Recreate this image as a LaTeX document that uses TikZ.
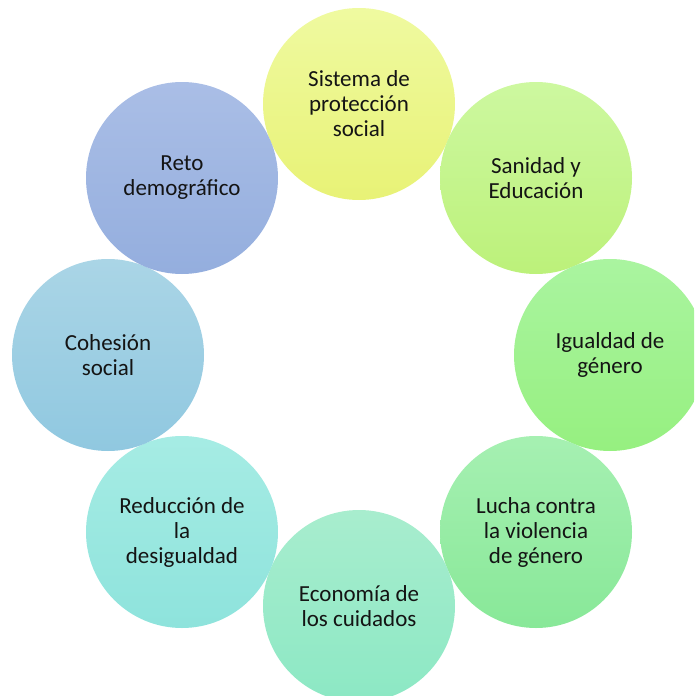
\documentclass[tikz,border=0pt]{standalone}
\usepackage{fontspec}
\setmainfont{Carlito}
\begin{document}
\begin{tikzpicture}[x=1pt,y=-1pt,
  bubble/.style={circle,minimum size=192pt,inner sep=0pt,draw=none,
    align=center,text=black!92,font=\fontsize{23}{25}\selectfont}]
\useasboundingbox (0,0) rectangle (694,696);
\clip (0,0) rectangle (694,696);
\node[bubble,top color={rgb,255:red,239;green,250;blue,160},bottom color={rgb,255:red,232;green,242;blue,118}]
  (n1) at (359,104) {Sistema de\\protección\\social};
\node[bubble,top color={rgb,255:red,205;green,248;blue,160},bottom color={rgb,255:red,188;green,241;blue,122}]
  (n2) at (536,178) {Sanidad y\\Educación};
\node[bubble,top color={rgb,255:red,170;green,244;blue,160},bottom color={rgb,255:red,150;green,240;blue,128}]
  (n3) at (610,355) {Igualdad de\\género};
\node[bubble,top color={rgb,255:red,166;green,240;blue,178},bottom color={rgb,255:red,136;green,232;blue,152}]
  (n4) at (536,532) {Lucha contra\\la violencia\\de género};
\node[bubble,top color={rgb,255:red,168;green,237;blue,206},bottom color={rgb,255:red,140;green,232;blue,196}]
  (n5) at (359,606) {Economía de\\los cuidados};
\node[bubble,top color={rgb,255:red,166;green,236;blue,228},bottom color={rgb,255:red,142;green,227;blue,220}]
  (n6) at (182,532) {Reducción de\\la\\desigualdad};
\node[bubble,top color={rgb,255:red,170;green,213;blue,230},bottom color={rgb,255:red,144;green,200;blue,224}]
  (n7) at (108,355) {Cohesión\\social};
\node[bubble,top color={rgb,255:red,170;green,190;blue,230},bottom color={rgb,255:red,148;green,174;blue,222}]
  (n8) at (182,178) {Reto\\demográfico};
\end{tikzpicture}
\end{document}
